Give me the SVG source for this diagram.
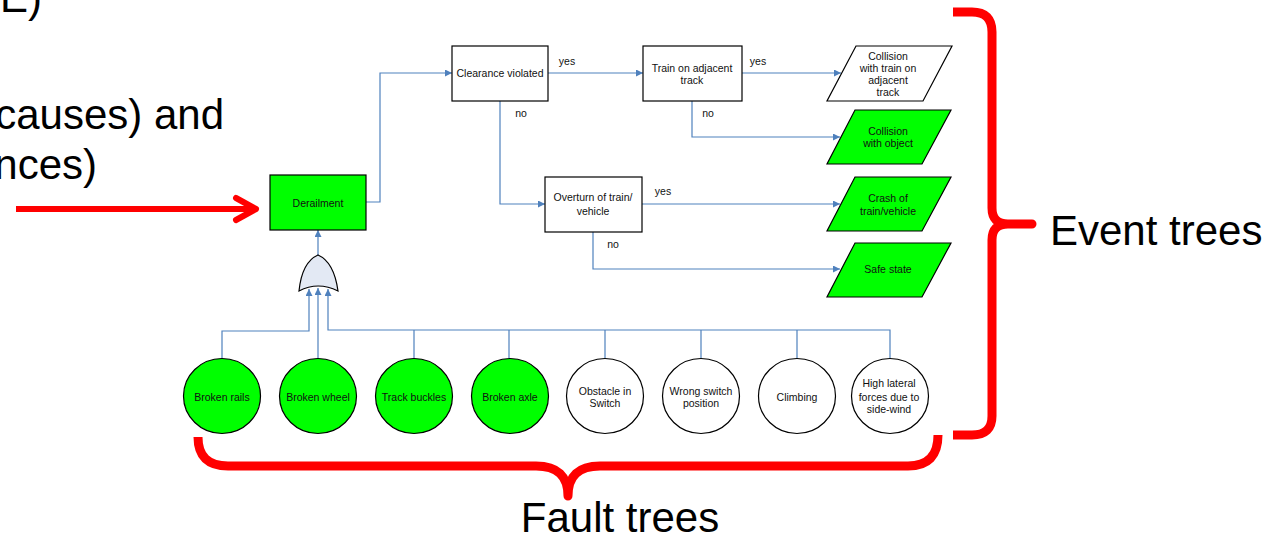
<svg xmlns="http://www.w3.org/2000/svg" width="1280" height="535" viewBox="0 0 1280 535">
<style>
.big{font-family:"Liberation Sans",Arial,sans-serif;font-size:42px;fill:#000}
.t{font-family:"Liberation Sans",Arial,sans-serif;font-size:10.5px;fill:#111;text-anchor:middle}
.lbl{font-family:"Liberation Sans",Arial,sans-serif;font-size:10.5px;fill:#111;text-anchor:middle}
.box{stroke:#000;stroke-width:1.2}
.green{fill:#00ff00}
.white{fill:#fff}
.con{fill:none;stroke:#4f81bd;stroke-width:1.2}
.red{fill:none;stroke:#ff0000;stroke-width:9;stroke-linejoin:round}
</style>
<defs>
<marker id="arr" viewBox="0 0 10 10" refX="10" refY="5" markerWidth="8" markerHeight="7" markerUnits="userSpaceOnUse" orient="auto">
<path d="M0,0 L10,5 L0,10 Z" fill="#4f81bd"/>
</marker>
</defs>
<rect width="1280" height="535" fill="#fff"/>

<g id="intro-text">
<text class="big" x="42" y="12" text-anchor="end">E)</text>
<text class="big" x="224" y="129" text-anchor="end">causes) and</text>
<text class="big" x="97" y="179" text-anchor="end">nces)</text>
</g>

<g id="red-arrow">
<path d="M16,209 H254" fill="none" stroke="#ff0000" stroke-width="6"/>
<path d="M236,198 L256,209 L236,220" fill="none" stroke="#ff0000" stroke-width="6" stroke-linecap="round" stroke-linejoin="round"/>
</g>

<g id="connectors">
<path class="con" d="M366,202 H380 V73 H452" marker-end="url(#arr)"/>
<path class="con" d="M548,73 H643" marker-end="url(#arr)"/>
<path class="con" d="M742,73 H841" marker-end="url(#arr)"/>
<path class="con" d="M692,101 V137 H840" marker-end="url(#arr)"/>
<path class="con" d="M500,101 V204 H545" marker-end="url(#arr)"/>
<path class="con" d="M642,204 H840" marker-end="url(#arr)"/>
<path class="con" d="M593,232 V269 H840" marker-end="url(#arr)"/>
<path class="con" d="M318,255 V230" marker-end="url(#arr)"/>
<path class="con" d="M222,358 V331 H309 V289" marker-end="url(#arr)"/>
<path class="con" d="M318,358 V288" marker-end="url(#arr)"/>
<path class="con" d="M890,358 V330 H328 V289" marker-end="url(#arr)" stroke-width="1.6"/>
<path class="con" d="M414,330 V358 M509,330 V358 M605,330 V358 M701,330 V358 M797,330 V358"/>
<text class="lbl" x="567" y="64.5">yes</text>
<text class="lbl" x="758" y="64.5">yes</text>
<text class="lbl" x="521" y="116.5">no</text>
<text class="lbl" x="708" y="116.5">no</text>
<text class="lbl" x="663" y="195">yes</text>
<text class="lbl" x="613" y="248">no</text>
</g>

<g id="derailment">
<rect class="box green" x="270" y="175" width="96" height="55"/>
<text class="t" x="318" y="206.5">Derailment</text>
</g>

<g id="clearance">
<rect class="box white" x="452" y="46" width="96" height="55"/>
<text class="t" x="500" y="77">Clearance violated</text>
</g>

<g id="train-adjacent">
<rect class="box white" x="643" y="46" width="99" height="55"/>
<text class="t" x="692" y="71.5">Train on adjacent</text>
<text class="t" x="692" y="83.5">track</text>
</g>

<g id="overturn">
<rect class="box white" x="545" y="177" width="97" height="55"/>
<text class="t" x="593" y="201">Overturn of train/</text>
<text class="t" x="593" y="214.5">vehicle</text>
</g>

<g id="collision-train">
<polygon class="box white" points="856,46 952,46 923,101 827,101"/>
<text class="t" x="888" y="59.5">Collision</text>
<text class="t" x="888" y="71.5">with train on</text>
<text class="t" x="888" y="83.5">adjacent</text>
<text class="t" x="888" y="95.5">track</text>
</g>

<g id="collision-object">
<polygon class="box green" points="855,110 951,110 922,164 827,164"/>
<text class="t" x="888" y="134.5">Collision</text>
<text class="t" x="888" y="147">with object</text>
</g>

<g id="crash">
<polygon class="box green" points="855,177 951,177 922,231 827,231"/>
<text class="t" x="888" y="201.5">Crash of</text>
<text class="t" x="888" y="214.5">train/vehicle</text>
</g>

<g id="safe-state">
<polygon class="box green" points="855,243 951,243 922,297 827,297"/>
<text class="t" x="888" y="273">Safe state</text>
</g>

<g id="or-gate">
<path d="M299,291 Q302,262 318,255 Q334,262 338,291 Q318,281 299,291 Z" fill="#e3e9f4" stroke="#000" stroke-width="1.2"/>
</g>

<g id="broken-rails">
<ellipse class="box green" cx="222" cy="396" rx="38.5" ry="37.5"/>
<text class="t" x="222" y="400.5">Broken rails</text>
</g>
<g id="broken-wheel">
<ellipse class="box green" cx="318" cy="396" rx="38.5" ry="37.5"/>
<text class="t" x="318" y="400.5">Broken wheel</text>
</g>
<g id="track-buckles">
<ellipse class="box green" cx="414" cy="396" rx="38.5" ry="37.5"/>
<text class="t" x="414" y="400.5">Track buckles</text>
</g>
<g id="broken-axle">
<ellipse class="box green" cx="510" cy="396" rx="38.5" ry="37.5"/>
<text class="t" x="510" y="400.5">Broken axle</text>
</g>
<g id="obstacle">
<ellipse class="box white" cx="605" cy="396" rx="38.5" ry="37.5"/>
<text class="t" x="605" y="394.5">Obstacle in</text>
<text class="t" x="605" y="406.5">Switch</text>
</g>
<g id="wrong-switch">
<ellipse class="box white" cx="701" cy="396" rx="38.5" ry="37.5"/>
<text class="t" x="701" y="394.5">Wrong switch</text>
<text class="t" x="701" y="406.5">position</text>
</g>
<g id="climbing">
<ellipse class="box white" cx="797" cy="396" rx="38.5" ry="37.5"/>
<text class="t" x="797" y="400.5">Climbing</text>
</g>
<g id="high-lateral">
<ellipse class="box white" cx="890" cy="396" rx="38.5" ry="37.5"/>
<text class="t" x="889" y="387">High lateral</text>
<text class="t" x="889" y="400.5">forces due to</text>
<text class="t" x="889" y="413">side-wind</text>
</g>

<g id="event-brace">
<path class="red" d="M953,12 H972 Q992,12 992,32 V208 Q992,224 1008,224 H1032 H1008 Q992,224 992,240 V416 Q992,435 972,435 H953"/>
<text class="big" x="1050" y="245">Event trees</text>
</g>

<g id="fault-brace">
<path class="red" d="M198,437 Q198,466 228,466 H536 Q568,466 568,496 Q568,466 600,466 H908 Q938,466 938,435"/>
<text class="big" x="620" y="532" text-anchor="middle">Fault trees</text>
</g>
</svg>
